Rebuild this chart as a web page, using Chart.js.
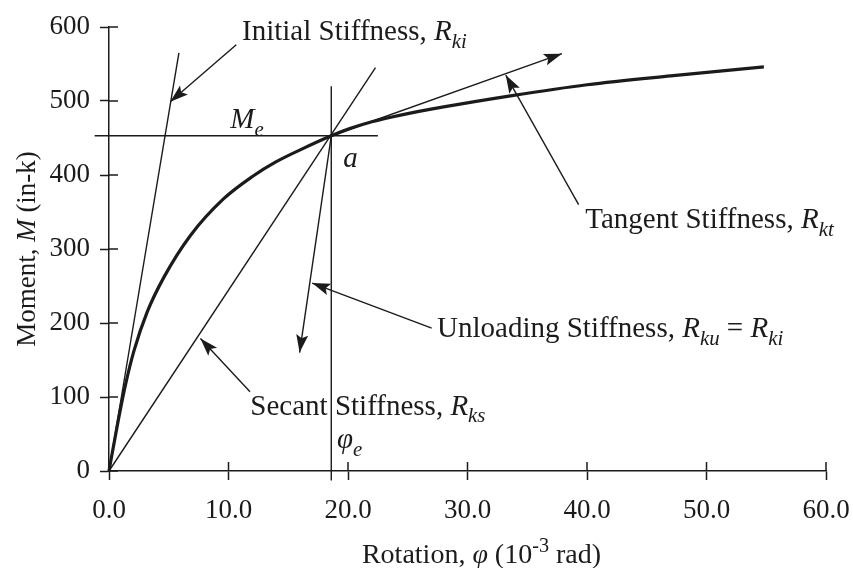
<!DOCTYPE html>
<html lang="en">
<head>
  <meta charset="utf-8">
  <title>Moment - Rotation Stiffness</title>
  <script src="https://cdn.jsdelivr.net/npm/chart.js@4.4.1/dist/chart.umd.min.js"></script>
  <style>
    body { margin: 0; background: #fff; }
    #wrap { width: 853px; height: 568px; }
  </style>
</head>
<body>
  <div id="wrap"><canvas id="chart"></canvas></div>
  <script>
    // moment-rotation curve
    const curveX = [0, 0.7, 1.4, 2.1, 3.2, 4.6, 6.8, 9.6, 12, 14, 16, 18.6, 20.2, 22, 24.4, 28, 33.6, 40, 47, 54.8];
    const curveY = [0, 62, 118, 163, 215, 262, 318, 368, 398, 418, 434, 453, 463, 472, 481, 492, 507, 522, 534, 546];

    // reference lines through point a
    const meX = [-1.2, 22.5];
    const meY = [453, 453];
    const phiX = [18.6, 18.6];
    const phiY = [-13, 520];
    const initialX = [0, 5.85];
    const initialY = [0, 565];
    const secantX = [0, 22.3];
    const secantY = [0, 545];
    const tangentX = [18.6, 37.9];
    const tangentY = [453, 564];
    const unloadX = [18.6, 15.95];
    const unloadY = [453, 160];

    // leader arrows (tail -> tip)
    const leadInitialX = [10.65, 5.13];
    const leadInitialY = [576, 499];
    const leadTangentX = [39.3, 33.2];
    const leadTangentY = [360, 535];
    const leadUnloadX = [27.0, 17.0];
    const leadUnloadY = [193, 254];
    const leadSecantX = [11.8, 7.65];
    const leadSecantY = [107, 179];

    const xTicks = [0, 10, 20, 30, 40, 50, 60];
    const yTicks = [0, 100, 200, 300, 400, 500, 600];

    const ink = '#1b1b1b';
    const serif = '"Liberation Serif", "DejaVu Serif", serif';

    function pts(xs, ys) {
      return xs.map((v, i) => ({ x: v, y: ys[i] }));
    }

    function seg(xs, ys, arrow) {
      return {
        data: pts(xs, ys),
        borderColor: ink,
        borderWidth: 1.4,
        pointRadius: 0,
        tension: 0,
        clip: false,
        arrow: !!arrow
      };
    }

    // text notes, anchored at data values (left edge, baseline)
    const notes = [
      { x: 11.13, y: 582, parts: [{ t: 'Initial Stiffness, ' }, { t: 'R', i: 1 }, { t: 'ki', i: 1, s: 1 }] },
      { x: 10.15, y: 463, parts: [{ t: 'M', i: 1 }, { t: 'e', i: 1, s: 1 }] },
      { x: 19.6, y: 411, parts: [{ t: 'a', i: 1 }] },
      { x: 39.85, y: 328, parts: [{ t: 'Tangent Stiffness, ' }, { t: 'R', i: 1 }, { t: 'kt', i: 1, s: 1 }] },
      { x: 27.45, y: 181, parts: [{ t: 'Unloading Stiffness, ' }, { t: 'R', i: 1 }, { t: 'ku', i: 1, s: 1 }, { t: ' = ' }, { t: 'R', i: 1 }, { t: 'ki', i: 1, s: 1 }] },
      { x: 11.83, y: 76, parts: [{ t: 'Secant Stiffness, ' }, { t: 'R', i: 1 }, { t: 'ks', i: 1, s: 1 }] },
      { x: 19.08, y: 31, parts: [{ t: 'φ', i: 1 }, { t: 'e', i: 1, s: 1 }] }
    ];

    function richWidth(ctx, parts, size) {
      let w = 0;
      parts.forEach(p => {
        const fs = (p.s || p.p) ? size * 0.72 : size;
        ctx.font = (p.i ? 'italic ' : '') + fs + 'px ' + serif;
        w += ctx.measureText(p.t).width;
      });
      return w;
    }

    function drawRich(ctx, x, y, parts, size) {
      let cx = x;
      ctx.textBaseline = 'alphabetic';
      ctx.textAlign = 'left';
      ctx.fillStyle = ink;
      parts.forEach(p => {
        const fs = (p.s || p.p) ? size * 0.72 : size;
        ctx.font = (p.i ? 'italic ' : '') + fs + 'px ' + serif;
        const dy = p.s ? size * 0.26 : (p.p ? -size * 0.4 : 0);
        ctx.fillText(p.t, cx, y + dy);
        cx += ctx.measureText(p.t).width;
      });
    }

    const overlay = {
      id: 'overlay',
      afterDatasetsDraw(chart) {
        const ctx = chart.ctx;
        const { x, y } = chart.scales;
        ctx.save();

        // inner half of the crossing tick marks
        ctx.strokeStyle = ink;
        ctx.lineWidth = 1.5;
        ctx.beginPath();
        xTicks.forEach(v => {
          const px = x.getPixelForValue(v);
          ctx.moveTo(px, y.bottom);
          ctx.lineTo(px, y.bottom - 9);
        });
        yTicks.forEach(v => {
          const py = y.getPixelForValue(v);
          ctx.moveTo(x.left, py);
          ctx.lineTo(x.left + 9, py);
        });
        ctx.stroke();

        // arrow heads
        ctx.fillStyle = ink;
        chart.data.datasets.forEach((ds, i) => {
          if (!ds.arrow) return;
          const el = chart.getDatasetMeta(i).data;
          const a = el[el.length - 2], b = el[el.length - 1];
          const ang = Math.atan2(b.y - a.y, b.x - a.x);
          const len = 18, half = 6;
          ctx.save();
          ctx.translate(b.x, b.y);
          ctx.rotate(ang);
          ctx.beginPath();
          ctx.moveTo(0, 0);
          ctx.lineTo(-len, -half);
          ctx.lineTo(-len * 0.8, 0);
          ctx.lineTo(-len, half);
          ctx.closePath();
          ctx.fill();
          ctx.restore();
        });

        // notes
        notes.forEach(n => {
          drawRich(ctx, x.getPixelForValue(n.x), y.getPixelForValue(n.y), n.parts, 29);
        });

        // axis titles
        const xt = [{ t: 'Rotation, ' }, { t: 'φ', i: 1 }, { t: ' (10' }, { t: '-3', p: 1 }, { t: ' rad)' }];
        const xw = richWidth(ctx, xt, 28);
        drawRich(ctx, (x.left + x.right) / 2 + 14 - xw / 2, chart.height - 5, xt, 28);

        const yt = [{ t: 'Moment, ' }, { t: 'M', i: 1 }, { t: ' (in-k)' }];
        const yw = richWidth(ctx, yt, 27);
        ctx.translate(35, (y.top + y.bottom) / 2);
        ctx.rotate(-Math.PI / 2);
        drawRich(ctx, -yw / 2, 0, yt, 27);

        ctx.restore();
      }
    };

    const curve = {
      data: pts(curveX, curveY),
      borderColor: ink,
      borderWidth: 3.2,
      pointRadius: 0,
      cubicInterpolationMode: 'monotone',
      clip: false
    };

    const ctx = document.getElementById('chart').getContext('2d');
    new Chart(ctx, {
      type: 'line',
      data: {
        datasets: [
          curve,
          seg(meX, meY),
          seg(phiX, phiY),
          seg(initialX, initialY),
          seg(secantX, secantY),
          seg(tangentX, tangentY, true),
          seg(unloadX, unloadY, true),
          seg(leadInitialX, leadInitialY, true),
          seg(leadTangentX, leadTangentY, true),
          seg(leadUnloadX, leadUnloadY, true),
          seg(leadSecantX, leadSecantY, true)
        ]
      },
      options: {
        responsive: true,
        maintainAspectRatio: false,
        animation: false,
        layout: { padding: { top: 27, right: 27, left: 0, bottom: 0 } },
        plugins: {
          legend: { display: false },
          tooltip: { enabled: false }
        },
        scales: {
          x: {
            type: 'linear',
            min: 0,
            max: 60,
            afterBuildTicks: s => { s.ticks = xTicks.map(v => ({ value: v })); },
            afterFit: s => { s.height = 97; s.paddingLeft = 0; s.paddingRight = 0; },
            ticks: {
              color: ink,
              padding: 15,
              font: { family: serif, size: 27 },
              callback: v => v.toFixed(1)
            },
            grid: { drawOnChartArea: false, tickLength: 9, tickColor: ink, tickWidth: 1.5 },
            border: { color: ink, width: 1.5 }
          },
          y: {
            min: 0,
            max: 600,
            afterBuildTicks: s => { s.ticks = yTicks.map(v => ({ value: v })); },
            afterFit: s => { s.width = 109; s.paddingTop = 0; s.paddingBottom = 0; },
            ticks: {
              color: ink,
              padding: 10,
              font: { family: serif, size: 27 }
            },
            grid: { drawOnChartArea: false, tickLength: 9, tickColor: ink, tickWidth: 1.5 },
            border: { color: ink, width: 1.5 }
          }
        }
      },
      plugins: [overlay]
    });
  </script>
</body>
</html>
